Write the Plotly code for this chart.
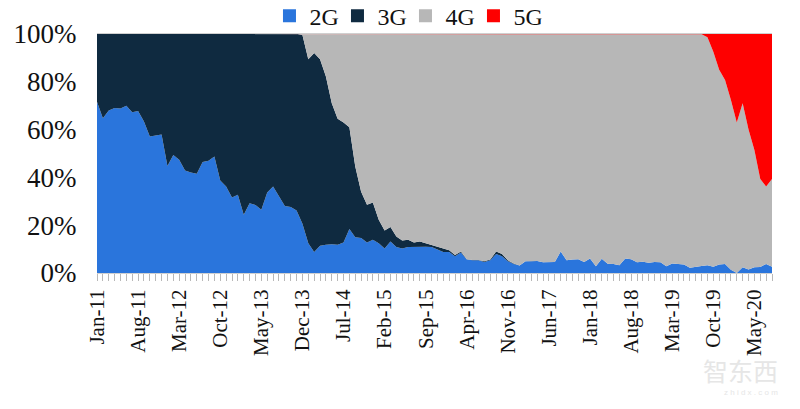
import pandas as pd
import plotly.graph_objects as go

months = pd.date_range("2011-01-01", periods=116, freq="MS").strftime("%b-%y").tolist()

share_2g = [71.7, 64.8, 68, 69, 68.8, 70, 67.3, 67.8, 63.4, 57.1, 57.5, 58, 44.8, 49.4, 47.4, 42.9,
            42, 41.5, 46.4, 47, 48.7, 38.7, 36.2, 31.6, 32.7, 24.4, 29.2, 28.5, 26.5, 33.7, 36.2, 32,
            28, 27.6, 26.2, 20.6, 12.5, 8.8, 11.4, 11.8, 12, 11.8, 12.8, 18.4, 15, 14.6, 12.8, 13.9,
            12.5, 10.2, 13.2, 10.9, 10.3, 10.9, 11, 11, 11, 10.9, 10, 8.8, 8.8, 7, 8.6, 5.6,
            5.3, 5.3, 4.6, 5.3, 7.9, 7, 4.9, 3.8, 3.1, 4.9, 4.9, 5, 4.5, 4.5, 4.6, 9,
            5.3, 5.6, 5.8, 4.6, 6.1, 2.8, 6, 3.9, 3.8, 3.2, 6.1, 5.8, 4.5, 4.7, 4.3, 4.6,
            4.5, 2.8, 4, 3.8, 3.6, 2.2, 2.4, 2.9, 3.2, 2.6, 3.6, 3.8, 1.4, 0, 2.4, 1.5,
            2.4, 2.5, 3.8, 2.6]
share_3g = [28.3, 35.2, 32, 31, 31.2, 30, 32.7, 32.2, 36.6, 42.9, 42.5, 42, 55.2, 50.6, 52.6, 57.1,
            58, 58.5, 53.6, 53, 51.3, 61.3, 63.8, 68.4, 67.3, 75.6, 70.8, 71.5, 73.5, 66.3, 63.8, 68,
            72, 72.4, 73.8, 79, 76.9, 83.2, 78, 70.4, 59, 52.7, 50.2, 42.6, 29.6, 19.4, 15.8, 15.6,
            9.8, 7.6, 6, 4.4, 3.3, 3, 1.8, 2.2, 1.5, 0.8, 1.1, 1.4, 0.7, 0.5, 0.4, 0.2,
            0.1, 0.1, 0.3, 0.3, 1.1, 0.9, 0.4, 0.2, 0, 0, 0, 0, 0, 0, 0, 0,
            0, 0, 0, 0, 0, 0, 0, 0, 0, 0, 0, 0, 0, 0, 0, 0,
            0, 0, 0, 0, 0, 0, 0, 0, 0, 0, 0, 0, 0, 0, 0, 0,
            0, 0, 0, 0]
share_4g = [0, 0, 0, 0, 0, 0, 0, 0, 0, 0, 0, 0, 0, 0, 0, 0,
            0, 0, 0, 0, 0, 0, 0, 0, 0, 0, 0, 0, 0, 0, 0, 0,
            0, 0, 0, 0.4, 10.6, 8, 10.6, 17.8, 29, 35.5, 37, 39, 55.4, 66, 71.4, 70.5,
            77.7, 82.2, 80.8, 84.7, 86.4, 86.1, 87.2, 86.8, 87.5, 88.3, 88.9, 89.8, 90.5, 92.5, 91, 94.2,
            94.6, 94.6, 95.1, 94.4, 91, 92.1, 94.7, 96, 96.9, 95.1, 95.1, 95, 95.5, 95.5, 95.4, 91,
            94.7, 94.4, 94.2, 95.4, 93.9, 97.2, 94, 96.1, 96.2, 96.8, 93.9, 94.2, 95.5, 95.3, 95.7, 95.4,
            95.5, 97.2, 96, 96.2, 96.4, 97.8, 97.6, 97, 95.4, 90, 81.4, 77, 71, 63, 68.6, 58.5,
            49.1, 36.8, 32.4, 36.7]
share_5g = [0] * 103 + [0.1, 1.4, 7.4, 15, 19.2, 27.6, 37, 29, 40, 48.5, 60.7, 63.8, 60.7]

y_ticks = [0, 20, 40, 60, 80, 100]
y_labels = ["0%", "20%", "40%", "60%", "80%", "100%"]

series = [("2G", share_2g, "#2a75dc"), ("3G", share_3g, "#0f2a40"),
          ("4G", share_4g, "#b7b7b7"), ("5G", share_5g, "#fe0000")]

fig = go.Figure()
for name, vals, color in series:
    fig.add_trace(go.Scatter(x=months, y=vals, mode="lines", stackgroup="one", showlegend=False,
                             line=dict(width=0, color=color), fillcolor=color))
    # small squares in the legend instead of the wide area swatch
    fig.add_trace(go.Scatter(x=[None], y=[None], mode="markers", name=name,
                             marker=dict(symbol="square", size=13, color=color)))

font = "Liberation Serif"
fig.update_layout(
    width=800, height=409,
    margin=dict(l=97, r=28, t=34, b=136, autoexpand=False),
    paper_bgcolor="white", plot_bgcolor="white",
    font=dict(family=font, color="#111111"),
    legend=dict(orientation="h", x=0.457, xanchor="center", y=1.075, yanchor="middle", traceorder="normal",
                font=dict(size=24), itemwidth=30, entrywidth=23, bgcolor="rgba(0,0,0,0)"),
    # monthly tick marks, a label on every 7th
    xaxis=dict(type="category", range=[0, 115], tickmode="linear", tick0=0, dtick=1, ticklabelstep=7,
               tickangle=-90, tickfont=dict(size=21), ticks="outside", ticklen=7, tickwidth=1,
               tickcolor="#b8b8b8", showgrid=False, showline=True, linecolor="#d0d0d0", mirror=True,
               zeroline=False),
    yaxis=dict(range=[0, 100], tickmode="array", tickvals=y_ticks, ticktext=y_labels,
               tickfont=dict(size=27), ticks="outside", ticklen=14, tickcolor="rgba(0,0,0,0)",
               showgrid=False, showline=False, zeroline=False),
    annotations=[
        dict(text="智东西", xref="paper", yref="paper", x=1.012, y=-0.406, xanchor="right", yanchor="middle",
             showarrow=False, font=dict(family="Noto Sans CJK SC", size=25, color="#e6e6e6")),
        dict(text="z h i d x . c o m", xref="paper", yref="paper", x=1.012, y=-0.502, xanchor="right",
             yanchor="middle", showarrow=False, font=dict(family="Liberation Sans", size=8, color="#e6e6e6")),
    ],
)

# the page's default body margin would shift the chart by 8px
fig.write_html("out.html", config=dict(displayModeBar=False),
               post_script="document.body.style.margin='0';")
